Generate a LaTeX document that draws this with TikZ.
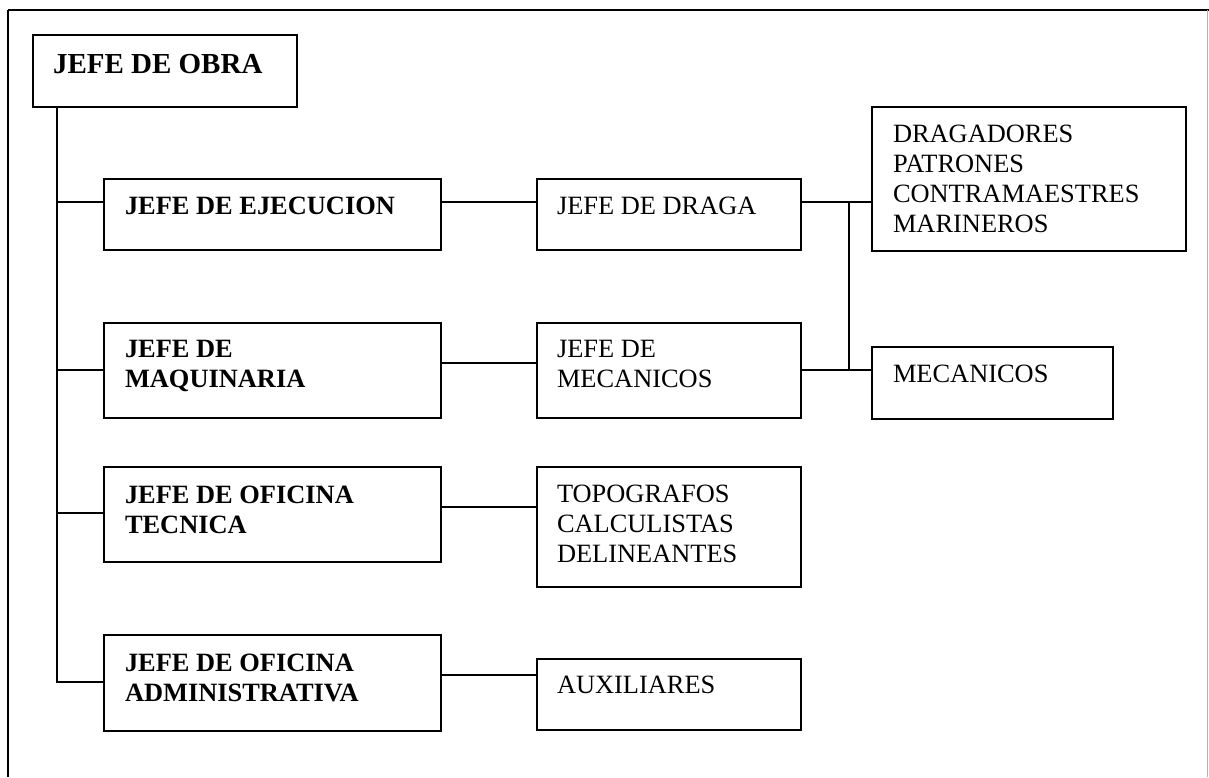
\documentclass[tikz,border=0pt]{standalone}
\usepackage{fontspec}
\setmainfont{Liberation Serif}
\begin{document}
\begin{tikzpicture}[x=1pt,y=-1pt,
  box/.style={draw=black,line width=1.9pt,inner sep=0pt,outer sep=0pt,anchor=north west},
  conn/.style={draw=black,line width=1.8pt},
  txt/.style={inner sep=0pt,outer sep=0pt,anchor=base west,font=\fontsize{26.4}{30}\selectfont},
  btxt/.style={txt,font=\fontsize{26.4}{30}\selectfont\bfseries}]
\useasboundingbox (0,0) rectangle (1209,777);
% outer frame
\draw[line width=2.2pt] (8,10) -- (1209,10);
\draw[line width=1.8pt] (8,10) -- (8,777);
\draw[line width=1pt,gray!60] (1207,10) -- (1207,777);
% boxes
\node[box,minimum width=264pt,minimum height=72pt] (obra) at (33,35) {};
\node[box,minimum width=337pt,minimum height=71pt] (ejec) at (104,179) {};
\node[box,minimum width=337pt,minimum height=95pt] (maq) at (104,323) {};
\node[box,minimum width=337pt,minimum height=95pt] (tec) at (104,467) {};
\node[box,minimum width=337pt,minimum height=96pt] (adm) at (104,635) {};
\node[box,minimum width=264pt,minimum height=71pt] (draga) at (537,179) {};
\node[box,minimum width=264pt,minimum height=95pt] (jmec) at (537,323) {};
\node[box,minimum width=264pt,minimum height=120pt] (topo) at (537,467) {};
\node[box,minimum width=264pt,minimum height=71pt] (aux) at (537,659) {};
\node[box,minimum width=314pt,minimum height=144pt] (drag) at (872,107) {};
\node[box,minimum width=241pt,minimum height=72pt] (mec) at (872,347) {};
% texts
\node[btxt,font=\fontsize{29}{34}\selectfont\bfseries] (obra-t) at (53,73) {JEFE DE OBRA};
\node[btxt] (ejec-t) at (125,214) {JEFE DE EJECUCION};
\node[btxt] (maq-t) at (125,357) {\parbox[t]{300pt}{JEFE DE\\MAQUINARIA}};
\node[btxt] (tec-t) at (125,503) {\parbox[t]{300pt}{JEFE DE OFICINA\\TECNICA}};
\node[btxt] (adm-t) at (125,671) {\parbox[t]{300pt}{JEFE DE OFICINA\\ADMINISTRATIVA}};
\node[txt] (draga-t) at (557,214) {JEFE DE DRAGA};
\node[txt] (jmec-t) at (557,357) {\parbox[t]{240pt}{JEFE DE\\MECANICOS}};
\node[txt] (topo-t) at (557,502) {\parbox[t]{240pt}{TOPOGRAFOS\\CALCULISTAS\\DELINEANTES}};
\node[txt] (aux-t) at (557,693) {AUXILIARES};
\node[txt] (drag-t) at (893,142) {\parbox[t]{290pt}{DRAGADORES\\PATRONES\\CONTRAMAESTRES\\MARINEROS}};
\node[txt] (mec-t) at (893,382) {MECANICOS};
% trunk
\coordinate (t0) at (57,107);
\coordinate (t1) at (57,202);
\coordinate (t2) at (57,370);
\coordinate (t3) at (57,513);
\coordinate (t4) at (57,682);
\draw[conn] (t0) -- (t4) -- (t4 -| adm.west);
\draw[conn] (t1) -- (t1 -| ejec.west);
\draw[conn] (t2) -- (t2 -| maq.west);
\draw[conn] (t3) -- (t3 -| tec.west);
% second level
\coordinate (r1) at (0,202);
\coordinate (r2) at (0,363);
\coordinate (r3) at (0,507);
\coordinate (r4) at (0,675);
\draw[conn] (r1 -| ejec.east) -- (r1 -| draga.west);
\draw[conn] (r2 -| maq.east) -- (r2 -| jmec.west);
\draw[conn] (r3 -| tec.east) -- (r3 -| topo.west);
\draw[conn] (r4 -| adm.east) -- (r4 -| aux.west);
% third level
\coordinate (v1) at (849,202);
\coordinate (v2) at (849,370);
\draw[conn] (v1 -| draga.east) -- (v1 -| drag.west);
\draw[conn] (v2 -| jmec.east) -- (v2 -| mec.west);
\draw[conn] (v1) -- (v2);
\end{tikzpicture}
\end{document}
